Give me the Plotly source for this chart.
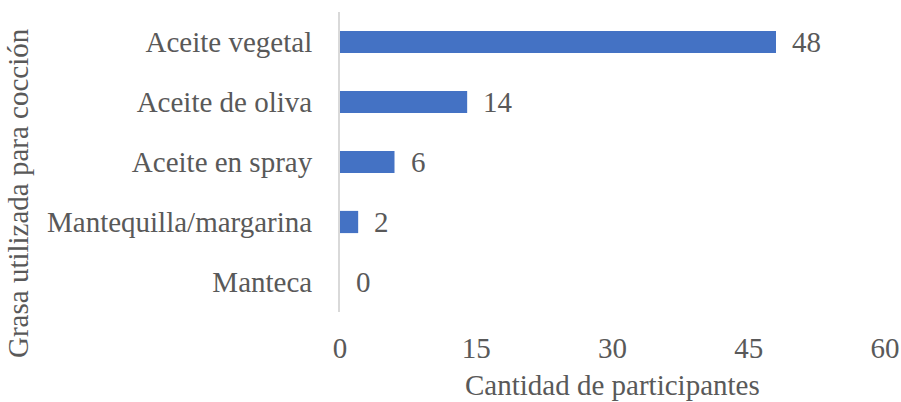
import plotly.graph_objects as go

categories = ["Manteca", "Mantequilla/margarina", "Aceite en spray", "Aceite de oliva", "Aceite vegetal"]
values = [0, 2, 6, 14, 48]
x_ticks = [0, 15, 30, 45, 60]

FONT = "Liberation Serif"
TXT = "#595959"
FS = 29

fig = go.Figure()
fig.add_trace(go.Bar(
    y=categories, x=values, orientation="h",
    marker=dict(color="#4472C4", line=dict(width=0)),
    width=0.37,
))
for c, v in zip(categories, values):
    fig.add_annotation(x=v, y=c, text=str(v), showarrow=False,
                       xanchor="left", xshift=14,
                       font=dict(family=FONT, size=FS, color=TXT))

fig.add_annotation(x=0.5, y=0, xref="paper", yref="paper", yanchor="middle", yshift=-73,
                   text="Cantidad de participantes", showarrow=False,
                   font=dict(family=FONT, size=FS, color=TXT))
fig.add_annotation(x=0, y=0.5, xref="paper", yref="paper", xanchor="center", yanchor="middle",
                   xshift=-322, yshift=-31, textangle=-90, text="Grasa utilizada para cocción",
                   showarrow=False, font=dict(family=FONT, size=FS, color=TXT))

fig.update_layout(
    width=901, height=402,
    margin=dict(l=340, r=16, t=12, b=90, autoexpand=False),
    plot_bgcolor="white", paper_bgcolor="white",
    showlegend=False,
    font=dict(family=FONT, size=FS, color=TXT),
)
fig.update_xaxes(range=[0, 60], tickvals=x_ticks, showgrid=False, zeroline=False,
                 showline=False, ticks="outside", ticklen=10, tickcolor="rgba(0,0,0,0)",
                 automargin=False,
                 tickfont=dict(family=FONT, size=FS, color=TXT))
fig.update_yaxes(showgrid=False, zeroline=False, showline=True, linecolor="#D9D9D9", linewidth=2,
                 ticks="outside", ticklen=20, tickcolor="rgba(0,0,0,0)", automargin=False,
                 tickfont=dict(family=FONT, size=FS, color=TXT))
fig.write_html("out.html", config={"displayModeBar": False},
               post_script="document.body.style.margin='0';")
